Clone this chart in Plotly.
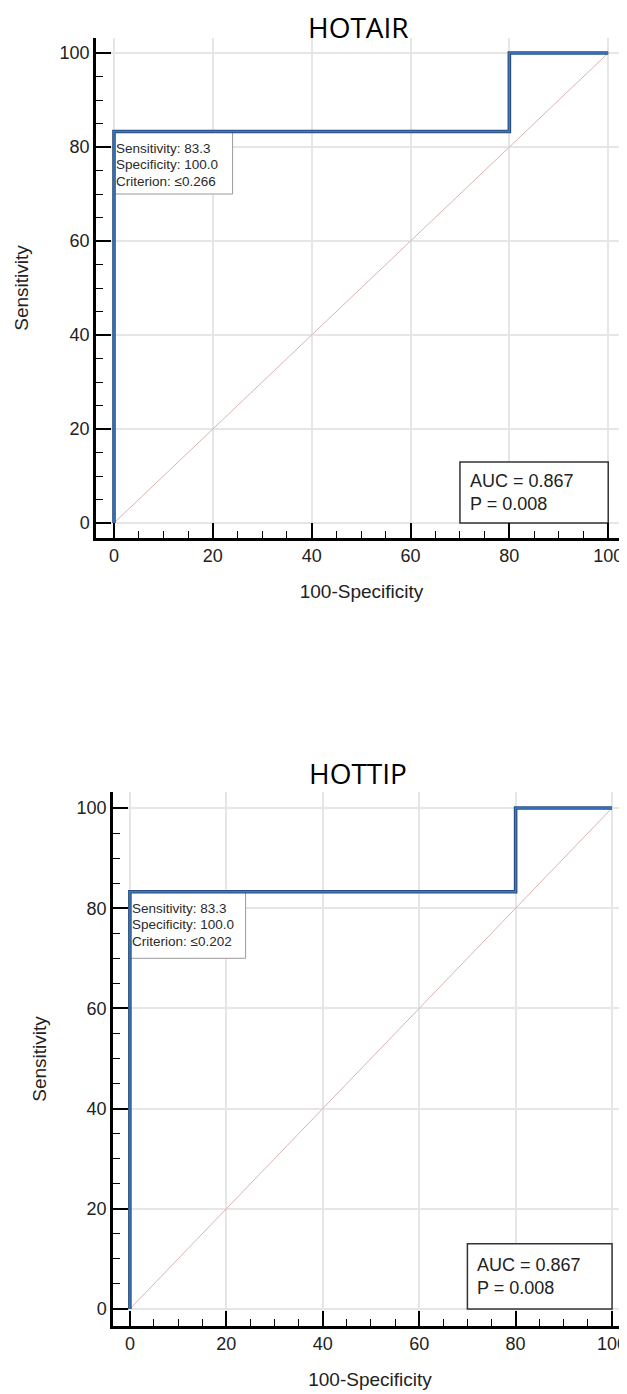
import plotly.graph_objects as go

# ---------------- data ----------------
genes = ["HOTAIR", "HOTTIP"]
hotair_fpr = [0, 0, 80, 100]
hotair_tpr = [0, 83.3, 100, 100]
hottip_fpr = [0, 0, 80, 100]
hottip_tpr = [0, 83.3, 100, 100]
sensitivity = [83.3, 83.3]
specificity = [100.0, 100.0]
criterion = ["≤0.266", "≤0.202"]
auc_values = [0.867, 0.867]
p_values = [0.008, 0.008]
ref_line = [0, 100]
tick_vals = [0, 20, 40, 60, 80, 100]

# page has an 8px body margin; figure sized to fill the rest of the window
PAGE_W, PAGE_H = 627, 1394
OFF = 8
W, H = PAGE_W - OFF, PAGE_H - OFF
FONT = "Liberation Sans, Arial, sans-serif"


def xp(px):
    return (px - OFF) / W


def yp(py):
    return 1 - (py - OFF) / H


fig = go.Figure()

panels = [
    dict(fpr=hotair_fpr, tpr=hotair_tpr, xa="x", ya="y",
         xdom=[xp(96), 1.0], ydom=[yp(538), yp(38)],
         xr=[-3.64, 103.8], yr=[-3.19, 103.2], title_y=yp(27),
         ystand=26, xstand=20),
    dict(fpr=hottip_fpr, tpr=hottip_tpr, xa="x2", ya="y2",
         xdom=[xp(113), 1.0], ydom=[yp(1326), yp(792)],
         xr=[-3.5, 103.1], yr=[-3.4, 103.2], title_y=yp(773),
         ystand=25, xstand=20),
]

shapes = []
annotations = []
for i, p in enumerate(panels):
    # reference diagonal
    fig.add_trace(go.Scatter(x=ref_line, y=ref_line, mode="lines",
                             line=dict(color="#d9b3b3", width=1),
                             xaxis=p["xa"], yaxis=p["ya"], showlegend=False,
                             hoverinfo="skip"))
    # ROC curve (dark outline + lighter core)
    fig.add_trace(go.Scatter(x=p["fpr"], y=p["tpr"], mode="lines",
                             line=dict(color="#294d7c", width=3.6, shape="hv"),
                             xaxis=p["xa"], yaxis=p["ya"], showlegend=False))
    fig.add_trace(go.Scatter(x=p["fpr"], y=p["tpr"], mode="lines",
                             line=dict(color="#3a7bc8", width=1.4, shape="hv"),
                             xaxis=p["xa"], yaxis=p["ya"], showlegend=False))

    sens = sensitivity[i]
    # criterion box
    shapes.append(dict(type="rect", xref=p["xa"], yref=p["ya"], layer="between",
                       x0=0, x1=24, y0=70, y1=sens,
                       line=dict(color="#9a9a9a", width=1), fillcolor="white"))
    lines = [f"Sensitivity: {sensitivity[i]:.1f}",
             f"Specificity: {specificity[i]:.1f}",
             f"Criterion: {criterion[i]}"]
    for k, t in enumerate(lines):
        annotations.append(dict(text=t, xref=p["xa"], yref=p["ya"], x=0, y=sens,
                                xanchor="left", yanchor="middle", showarrow=False,
                                xshift=0, yshift=-(16.5 + 16.5 * k),
                                font=dict(family=FONT, size=13.5, color="#2a2a2a")))
    # AUC box
    shapes.append(dict(type="rect", xref=p["xa"], yref=p["ya"], layer="between",
                       x0=70, x1=100, y0=0, y1=13,
                       line=dict(color="#333333", width=1.5), fillcolor="white"))
    annotations.append(dict(text=f"AUC = {auc_values[i]:.3f}<br>P = {p_values[i]:.3f}",
                            xref=p["xa"], yref=p["ya"], x=70, y=6.5,
                            xanchor="left", yanchor="middle", align="left",
                            showarrow=False, xshift=8,
                            font=dict(family=FONT, size=18, color="#222222")))
    # panel title
    annotations.append(dict(text=genes[i], xref="paper", yref="paper",
                            x=xp(358), y=p["title_y"], xanchor="center",
                            yanchor="middle", showarrow=False,
                            font=dict(family="Open Sans, sans-serif", size=28,
                                      color="#000000")))

    axis_common = dict(showline=True, linecolor="black", linewidth=2.5,
                       showgrid=True, gridcolor="#e6e6e6", gridwidth=1.5,
                       zeroline=False, ticks="inside", ticklen=15,
                       tickwidth=1.5, tickcolor="black", tickvals=tick_vals,
                       tickfont=dict(family=FONT, size=18, color="#222222"),
                       ticklabeloverflow="allow",
                       minor=dict(ticks="inside", ticklen=7, tickwidth=1,
                                  tickcolor="black", dtick=5, tick0=0,
                                  showgrid=False),
                       automargin=False, fixedrange=True)
    suffix = "" if i == 0 else "2"
    fig.layout["xaxis" + suffix] = dict(
        axis_common, domain=p["xdom"], range=p["xr"], anchor=p["ya"],
        title=dict(text="100-Specificity", standoff=p["xstand"],
                   font=dict(family=FONT, size=19, color="#222222")))
    fig.layout["yaxis" + suffix] = dict(
        axis_common, domain=p["ydom"], range=p["yr"], anchor=p["xa"],
        title=dict(text="Sensitivity", standoff=p["ystand"],
                   font=dict(family=FONT, size=19, color="#222222")))

fig.update_layout(width=W, height=H, margin=dict(l=0, r=0, t=0, b=0),
                  paper_bgcolor="white", plot_bgcolor="white",
                  shapes=shapes, annotations=annotations, showlegend=False)

fig.write_html("out.html")
